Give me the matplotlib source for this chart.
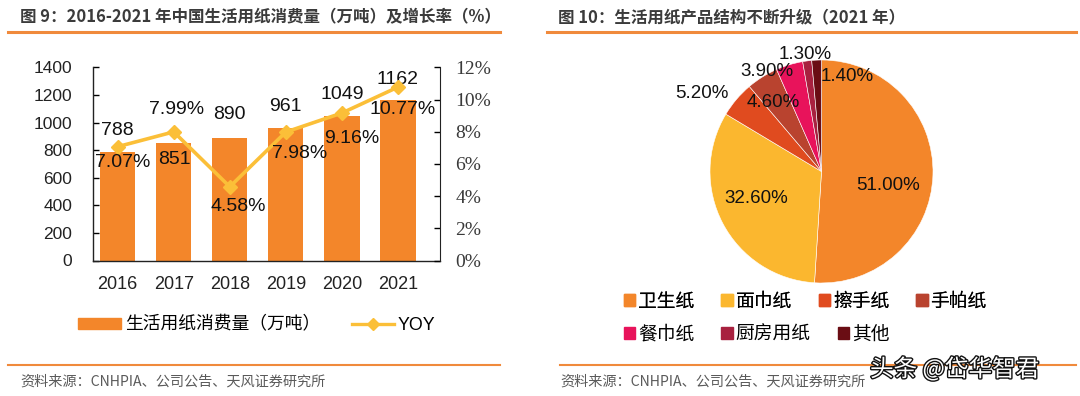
"""
图9 / 图10：生活用纸消费量与产品结构
"""

import numpy as np
import matplotlib
matplotlib.use('Agg')
import matplotlib.pyplot as plt
import matplotlib.patches as mpatches
from matplotlib.lines import Line2D
import matplotlib.patheffects as pe

plt.rcParams['font.family'] = ['Liberation Sans', 'Noto Sans CJK SC']

# ---- 数据 ----
years = ['2016', '2017', '2018', '2019', '2020', '2021']
consumption = [788, 851, 890, 961, 1049, 1162]       # 万吨
yoy = [7.07, 7.99, 4.58, 7.98, 9.16, 10.77]            # %

pie_labels = ['卫生纸', '面巾纸', '擦手纸', '手帕纸', '餐巾纸', '厨房用纸', '其他']
pie_shares = [51.00, 32.60, 5.20, 4.60, 3.90, 1.30, 1.40]

# ---- 样式 ----
W, H = 1080, 396
ORANGE = '#F3862A'
LINE_YEL = '#FBBF38'
RULE = '#F08A3C'
pie_colors = ['#F3862A', '#FBB72F', '#E04B1F', '#B9432F', '#E8135B', '#A8213F', '#6A0D14']

# 数据标签偏移 (像素)
bar_lab_off = [(0, 21), (1, -16), (0, 23), (0, 21), (0, 21), (0, 21)]
yoy_lab_off = [(5, -16), (3, 22), (8, -20), (14, -21), (10, -25), (5, -22)]
# 饼图标签：半径比例 + 角度微调
pie_lab_r = [0.61, 0.63, 1.28, 0.76, 1.02, 1.06, 0.88]
pie_lab_dang = [-9.7, -5.4, 7, 3, 12, 0.6, -17.5]

PX = 0.72  # 1 px = 0.72 pt @100dpi


def fx(px):
    return px / W


def fy(py):
    return 1 - py / H


fig = plt.figure(figsize=(10.8, 3.96), dpi=100)

# ============================================================
# 标题 / 分隔线 / 资料来源
# ============================================================
title_kw = dict(family=['Noto Sans CJK SC'], fontweight='bold', fontsize=11.9,
                color='#3B3B3B', va='center', ha='left')
fig.text(fx(20), fy(17), '图 9：2016-2021 年中国生活用纸消费量（万吨）及增长率（%）', **title_kw)
fig.text(fx(558), fy(17), '图 10：生活用纸产品结构不断升级（2021 年）', **title_kw)

for x0, x1 in [(8, 500), (547, 1076)]:
    fig.add_artist(Line2D([fx(x0), fx(x1)], [fy(32), fy(32)], color=RULE, lw=2.2))
for x0, x1 in [(8, 500), (560, 1076)]:
    fig.add_artist(Line2D([fx(x0), fx(x1)], [fy(364.5), fy(364.5)], color=RULE, lw=1.5))

src_kw = dict(family=['Noto Sans CJK SC'], fontsize=10.2, color='#5A5A5A', va='center', ha='left')
fig.text(fx(20), fy(382), '资料来源：CNHPIA、公司公告、天风证券研究所', **src_kw)
fig.text(fx(560), fy(382), '资料来源：CNHPIA、公司公告、天风证券研究所', **src_kw)

# ============================================================
# 左图：柱状 + 折线
# ============================================================
ax = fig.add_axes([fx(93), fy(260.5), fx(440 - 93), (260.5 - 67.3) / H])
x = np.arange(len(years))
bars = ax.bar(x, consumption, width=0.63, color=ORANGE, zorder=2)
ax.set_xlim(-0.44, 5.75)
ax.set_ylim(0, 1400)
ax.set_yticks(np.arange(0, 1401, 200))
ax.set_xticks(x)
ax.set_xticklabels(years)
ax.tick_params(axis='y', direction='in', length=4, width=1, pad=15,
               labelsize=12.5, labelcolor='#222222')
ax.tick_params(axis='x', length=0, pad=11, labelsize=13, labelcolor='#222222')
ax.spines['top'].set_visible(False)
ax.spines['right'].set_visible(False)
for s in ['left', 'bottom']:
    ax.spines[s].set_color('#222222')
    ax.spines[s].set_linewidth(1)

for xi, v, (dx, dy) in zip(x, consumption, bar_lab_off):
    ax.annotate(f'{v}', (xi, v), xytext=(dx * PX, dy * PX), textcoords='offset points',
                ha='center', va='center', fontsize=14, color='#111111', zorder=5)

ax2 = ax.twinx()
ax2.plot(x, yoy, color=LINE_YEL, lw=2.6, marker='D', markersize=7.5, zorder=3)
ax2.set_ylim(0, 12)
ax2.set_yticks(np.arange(0, 12.1, 2))
ax2.set_yticklabels([f'{int(v)}%' for v in np.arange(0, 12.1, 2)],
                    family=['Liberation Serif'])
ax2.tick_params(axis='y', direction='in', length=4, width=1, pad=11,
                labelsize=14, labelcolor='#3A3A3A')
ax2.spines['top'].set_visible(False)
ax2.spines['left'].set_visible(False)
ax2.spines['bottom'].set_visible(False)
ax2.spines['right'].set_color('#222222')

for xi, v, (dx, dy) in zip(x, yoy, yoy_lab_off):
    ax2.annotate(f'{v:.2f}%', (xi, v), xytext=(dx * PX, dy * PX), textcoords='offset points',
                 ha='center', va='center', fontsize=14, color='#111111', zorder=5)

h_bar = mpatches.Patch(color=ORANGE, label='生活用纸消费量（万吨）')
h_line = Line2D([], [], color=LINE_YEL, lw=2.4, marker='D', markersize=6, label='YOY')
fig.legend(handles=[h_bar, h_line], loc='center', bbox_to_anchor=(fx(257), fy(325)),
           ncol=2, frameon=False, handlelength=2.4, handleheight=0.6,
           handletextpad=0.2, columnspacing=1.8,
           prop={'family': ['Liberation Sans', 'Noto Sans CJK SC'], 'size': 12.8})

# ============================================================
# 右图：饼图
# ============================================================
cx, cy, R = 821.5, 171.5, 111.5
axp = fig.add_axes([fx(cx - R), fy(cy + R), fx(2 * R), 2 * R / H])
wedges, _ = axp.pie(pie_shares, colors=pie_colors, startangle=90, counterclock=False,
                    radius=1, wedgeprops=dict(edgecolor='white', linewidth=0.4))
axp.set_xlim(-1, 1)
axp.set_ylim(-1, 1)

for w, v, r, da in zip(wedges, pie_shares, pie_lab_r, pie_lab_dang):
    ang = np.deg2rad((w.theta1 + w.theta2) / 2 + da)
    axp.text(r * np.cos(ang), r * np.sin(ang), f'{v:.2f}%', ha='center', va='center',
             fontsize=13.5, color='#111111', clip_on=False)

pie_handles = [mpatches.Patch(color=c, label=l) for c, l in zip(pie_colors, pie_labels)]
leg_kw = dict(loc='center left', frameon=False, handlelength=0.6, handleheight=0.6,
              handletextpad=0.15, columnspacing=1.45, borderpad=0, borderaxespad=0,
              prop={'family': ['Noto Sans CJK SC'], 'size': 13.5})
leg1 = fig.legend(handles=pie_handles[:4], ncol=4, bbox_to_anchor=(fx(624), fy(301)), **leg_kw)
fig.add_artist(leg1)
fig.legend(handles=pie_handles[4:], ncol=3, bbox_to_anchor=(fx(624), fy(334)), **leg_kw)

# 水印
fig.text(fx(870), fy(369), '头条 @岱华智君', family=['Noto Sans CJK SC'], fontsize=17,
         color='white', ha='left', va='center',
         path_effects=[pe.withStroke(linewidth=2, foreground='#111111')])

fig.savefig('out.png', dpi=100)
plt.close(fig)
